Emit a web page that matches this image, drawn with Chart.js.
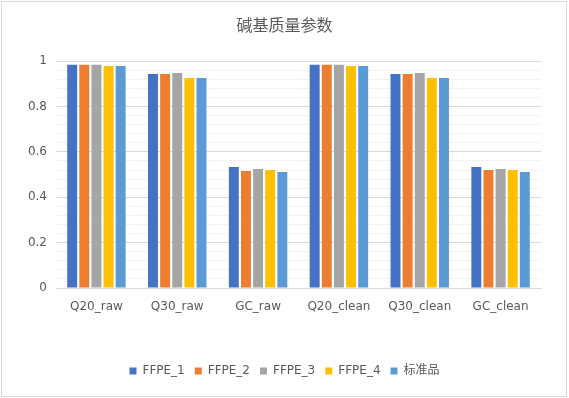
<!DOCTYPE html>
<html>
<head>
<meta charset="utf-8">
<script src="https://cdn.jsdelivr.net/npm/chart.js@4"></script>
<style>
  html, body { margin: 0; padding: 0; background: #fff; }
  #wrap { position: relative; width: 569px; height: 398px; }
</style>
</head>
<body>
<div id="wrap"><canvas id="myChart"></canvas></div>
<script>
var categories = ['Q20_raw', 'Q30_raw', 'GC_raw', 'Q20_clean', 'Q30_clean', 'GC_clean'];
var seriesNames = ['FFPE_1', 'FFPE_2', 'FFPE_3', 'FFPE_4', '标准品'];
var ffpe1 = [0.984, 0.944, 0.534, 0.984, 0.944, 0.534];
var ffpe2 = [0.984, 0.944, 0.516, 0.984, 0.944, 0.520];
var ffpe3 = [0.984, 0.948, 0.525, 0.984, 0.948, 0.525];
var ffpe4 = [0.979, 0.926, 0.520, 0.979, 0.926, 0.520];
var standard = [0.979, 0.926, 0.512, 0.979, 0.926, 0.512];
var yTicks = [0, 0.2, 0.4, 0.6, 0.8, 1];

var barColors = ['#4472C4', '#ED7D31', '#A5A5A5', '#FFC000', '#5B9BD5'];
var seriesValues = [ffpe1, ffpe2, ffpe3, ffpe4, standard];
var textColor = '#595959';
var fontFamily = '"DejaVu Sans", "Noto Sans CJK SC", sans-serif';

function isMajor(v) {
	return yTicks.some(function(t) { return Math.abs(t - v) < 1e-6; });
}

var datasets = [];
for (var i = 0; i < seriesNames.length; i++) {
	datasets.push({
		label: seriesNames[i],
		data: seriesValues[i],
		backgroundColor: barColors[i],
		borderWidth: 0,
		categoryPercentage: 0.75,
		barPercentage: 0.82
	});
}

// white background and thin outer frame, like the chart area of a spreadsheet
var framePlugin = {
	id: 'frame',
	beforeDraw: function(chart) {
		var ctx = chart.ctx;
		ctx.save();
		ctx.fillStyle = '#fff';
		ctx.fillRect(0, 0, chart.width, chart.height);
		ctx.strokeStyle = '#d9d9d9';
		ctx.lineWidth = 1;
		ctx.strokeRect(1.5, 1.5, 565, 395);
		ctx.restore();
	}
};

var config = {
	type: 'bar',
	data: {
		labels: categories,
		datasets: datasets
	},
	options: {
		responsive: true,
		maintainAspectRatio: false,
		animation: false,
		layout: {
			padding: { left: 14, right: 14, top: 0, bottom: 11 }
		},
		plugins: {
			title: {
				display: true,
				text: '碱基质量参数',
				color: textColor,
				font: { family: '"Noto Sans CJK SC", sans-serif', size: 16, weight: 'normal' },
				padding: { top: 15, bottom: 27 }
			},
			legend: {
				position: 'bottom',
				labels: {
					boxWidth: 7,
					boxHeight: 7,
					padding: 10,
					color: textColor,
					font: { family: fontFamily, size: 12 }
				}
			},
			tooltip: { enabled: false }
		},
		scales: {
			x: {
				grid: { display: false, drawTicks: false },
				border: { display: true, color: '#d9d9d9' },
				ticks: {
					color: textColor,
					font: { family: fontFamily, size: 12 },
					padding: 12,
					maxRotation: 0
				},
				afterFit: function(scale) { scale.height = 67; }
			},
			y: {
				min: 0,
				max: 1,
				grid: {
					drawTicks: false,
					color: function(ctx) {
						return isMajor(ctx.tick.value) ? '#d9d9d9' : '#f2f2f2';
					}
				},
				border: { display: false },
				ticks: {
					stepSize: 0.04,
					maxTicksLimit: 100,
					autoSkip: false,
					color: textColor,
					font: { family: fontFamily, size: 12 },
					padding: 9,
					callback: function(v) {
						return isMajor(v) ? String(Math.round(v * 10) / 10) : '';
					}
				},
				afterFit: function(scale) { scale.width = 42; }
			},
			// empty spacer on the right so plot and legend sit where they do in the original
			yRight: {
				position: 'right',
				min: 0,
				max: 1,
				grid: { display: false, drawTicks: false },
				border: { display: false },
				ticks: { display: false },
				afterFit: function(scale) { scale.width = 14; }
			}
		}
	},
	plugins: [framePlugin]
};

window.bar_chart = new Chart(document.getElementById('myChart').getContext('2d'), config);
</script>
</body>
</html>
